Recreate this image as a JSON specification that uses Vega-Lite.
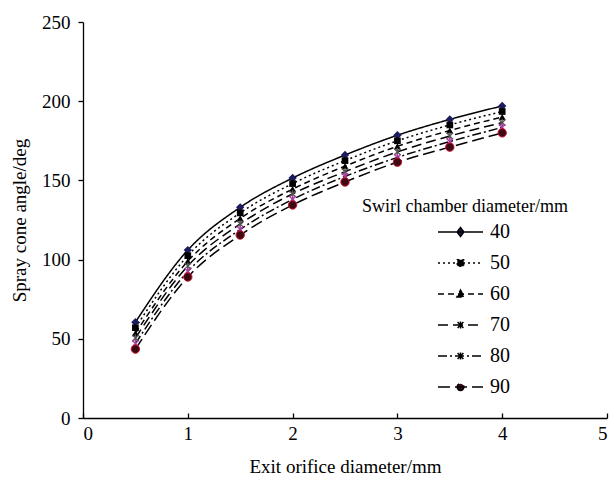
{
  "$schema": "https://vega.github.io/schema/vega-lite/v6.json",
  "autosize": "none",
  "width": 524,
  "height": 396,
  "padding": {"left": 83, "top": 22, "right": 4, "bottom": 70},
  "background": "white",
  "config": {
    "view": {"stroke": null},
    "font": "Liberation Serif",
    "axis": {
      "grid": false,
      "labelFont": "Liberation Serif",
      "labelFontSize": 19,
      "labelColor": "black",
      "titleFont": "Liberation Serif",
      "titleFontSize": 19,
      "titleFontWeight": "normal",
      "titleColor": "black",
      "domainColor": "black",
      "domainWidth": 1.3,
      "tickColor": "black",
      "tickWidth": 1.3
    },
    "legend": {"labelFont": "Liberation Serif", "titleFont": "Liberation Serif"}
  },
  "data": {
    "values": [
      {"d": "40", "x": 0.5, "y": 60.5}, {"d": "40", "x": 1, "y": 106}, {"d": "40", "x": 1.5, "y": 133}, {"d": "40", "x": 2, "y": 151.5}, {"d": "40", "x": 2.5, "y": 166}, {"d": "40", "x": 3, "y": 178.5}, {"d": "40", "x": 3.5, "y": 188.5}, {"d": "40", "x": 4, "y": 197},
      {"d": "50", "x": 0.5, "y": 57}, {"d": "50", "x": 1, "y": 102.5}, {"d": "50", "x": 1.5, "y": 129.5}, {"d": "50", "x": 2, "y": 148}, {"d": "50", "x": 2.5, "y": 162.5}, {"d": "50", "x": 3, "y": 175}, {"d": "50", "x": 3.5, "y": 185}, {"d": "50", "x": 4, "y": 193.5},
      {"d": "60", "x": 0.5, "y": 53.5}, {"d": "60", "x": 1, "y": 99}, {"d": "60", "x": 1.5, "y": 126}, {"d": "60", "x": 2, "y": 144.5}, {"d": "60", "x": 2.5, "y": 159}, {"d": "60", "x": 3, "y": 171.5}, {"d": "60", "x": 3.5, "y": 181.5}, {"d": "60", "x": 4, "y": 190},
      {"d": "70", "x": 0.5, "y": 50.5}, {"d": "70", "x": 1, "y": 96}, {"d": "70", "x": 1.5, "y": 122.5}, {"d": "70", "x": 2, "y": 141.5}, {"d": "70", "x": 2.5, "y": 155.5}, {"d": "70", "x": 3, "y": 168}, {"d": "70", "x": 3.5, "y": 178}, {"d": "70", "x": 4, "y": 186.5},
      {"d": "80", "x": 0.5, "y": 47}, {"d": "80", "x": 1, "y": 92.5}, {"d": "80", "x": 1.5, "y": 119}, {"d": "80", "x": 2, "y": 138}, {"d": "80", "x": 2.5, "y": 152.5}, {"d": "80", "x": 3, "y": 164.5}, {"d": "80", "x": 3.5, "y": 174.5}, {"d": "80", "x": 4, "y": 183.5},
      {"d": "90", "x": 0.5, "y": 43.5}, {"d": "90", "x": 1, "y": 89}, {"d": "90", "x": 1.5, "y": 115.5}, {"d": "90", "x": 2, "y": 134.5}, {"d": "90", "x": 2.5, "y": 149}, {"d": "90", "x": 3, "y": 161.5}, {"d": "90", "x": 3.5, "y": 171}, {"d": "90", "x": 4, "y": 180}
    ]
  },
  "encoding": {
    "x": {
      "field": "x", "type": "quantitative",
      "scale": {"domain": [0, 5], "nice": false},
      "axis": {"values": [0, 1, 2, 3, 4, 5], "format": "d", "title": "Exit orifice diameter/mm", "labelFont": "Liberation Serif", "tickSize": -5, "labelPadding": 11, "titlePadding": 14}
    },
    "y": {
      "field": "y", "type": "quantitative",
      "scale": {"domain": [0, 250], "nice": false},
      "axis": {"values": [0, 50, 100, 150, 200, 250], "format": "d", "title": "Spray cone angle/deg", "labelFont": "Liberation Serif", "tickSize": 5, "labelPadding": 8, "titlePadding": 12}
    }
  },
  "layer": [
    {
      "mark": {"type": "line", "interpolate": "monotone", "color": "black", "strokeWidth": 1.5},
      "encoding": {
        "detail": {"field": "d", "type": "nominal"},
        "strokeDash": {
          "field": "d", "type": "nominal",
          "scale": {"domain": ["40", "50", "60", "70", "80", "90"], "range": [[1, 0], [2, 3], [6, 4], [10, 5], [9, 3, 2, 3], [12, 5]]}
        }
      }
    },
    {
      "mark": {"type": "point", "opacity": 0, "stroke": "black", "strokeWidth": 1.5, "filled": false},
      "encoding": {
        "shape": {
          "field": "d", "type": "nominal",
          "scale": {"domain": ["40", "50", "60", "70", "80", "90"], "range": [
            "M-1,0H1M0,-0.2L0.15,0L0,0.2L-0.15,0Z",
            "M-1,0H1M-0.14,-0.14H0.14V0.14H-0.14Z",
            "M-1,0H1M0,-0.17L0.16,0.13H-0.16Z",
            "M-1,0H1M-0.13,-0.13L0.13,0.13M-0.13,0.13L0.13,-0.13M0,-0.16V0.16",
            "M-1,0H1M-0.13,-0.13L0.13,0.13M-0.13,0.13L0.13,-0.13M0,-0.16V0.16",
            "M-1,0H1M-0.15,0A0.15,0.15,0,1,0,0.15,0A0.15,0.15,0,1,0,-0.15,0Z"
          ]},
          "legend": {
            "orient": "none", "legendX": 279, "legendY": 176,
            "title": "Swirl chamber diameter/mm",
            "titleFont": "Liberation Serif", "titleFontSize": 18, "titleFontWeight": "normal", "titleColor": "black",
            "titlePadding": 6, "titleLimit": 400,
            "labelFont": "Liberation Serif", "labelFontSize": 20, "labelColor": "black",
            "symbolSize": 2025, "symbolStrokeColor": "black", "symbolStrokeWidth": 1.5, "symbolOpacity": 1,
            "clipHeight": 20, "rowPadding": 11, "symbolOffset": 75, "labelOffset": 6, "padding": 0
          }
        },
        "fill": {
          "field": "d", "type": "nominal",
          "scale": {"domain": ["40", "50", "60", "70", "80", "90"], "range": ["#1b1b5e", "black", "black", "transparent", "transparent", "#3d0a14"]}
        }
      }
    },
    {
      "transform": [{"filter": {"field": "d", "equal": "40"}}],
      "mark": {"type": "point", "shape": "diamond", "filled": true, "color": "#1b1b5e", "size": 70, "opacity": 1}
    },
    {
      "transform": [{"filter": {"field": "d", "equal": "50"}}],
      "mark": {"type": "point", "shape": "square", "filled": true, "color": "black", "size": 45, "opacity": 1}
    },
    {
      "transform": [{"filter": {"field": "d", "equal": "60"}}],
      "mark": {"type": "point", "shape": "triangle-up", "filled": true, "color": "black", "size": 50, "opacity": 1}
    },
    {
      "transform": [{"filter": {"field": "d", "equal": "70"}}],
      "mark": {"type": "point", "shape": "M-1,-1L1,1M-1,1L1,-1M0,-1.2V1.2", "filled": false, "color": "#555555", "strokeWidth": 1.3, "size": 40, "opacity": 1}
    },
    {
      "transform": [{"filter": {"field": "d", "equal": "80"}}],
      "mark": {"type": "point", "shape": "M-1,-1L1,1M-1,1L1,-1M0,-1.2V1.2", "filled": false, "color": "#b03aa8", "strokeWidth": 1.3, "size": 40, "opacity": 1}
    },
    {
      "transform": [{"filter": {"field": "d", "equal": "90"}}],
      "mark": {"type": "point", "shape": "circle", "filled": true, "fill": "#3d0a14", "stroke": "#c8102e", "strokeWidth": 1, "size": 70, "opacity": 1}
    }
  ]
}
